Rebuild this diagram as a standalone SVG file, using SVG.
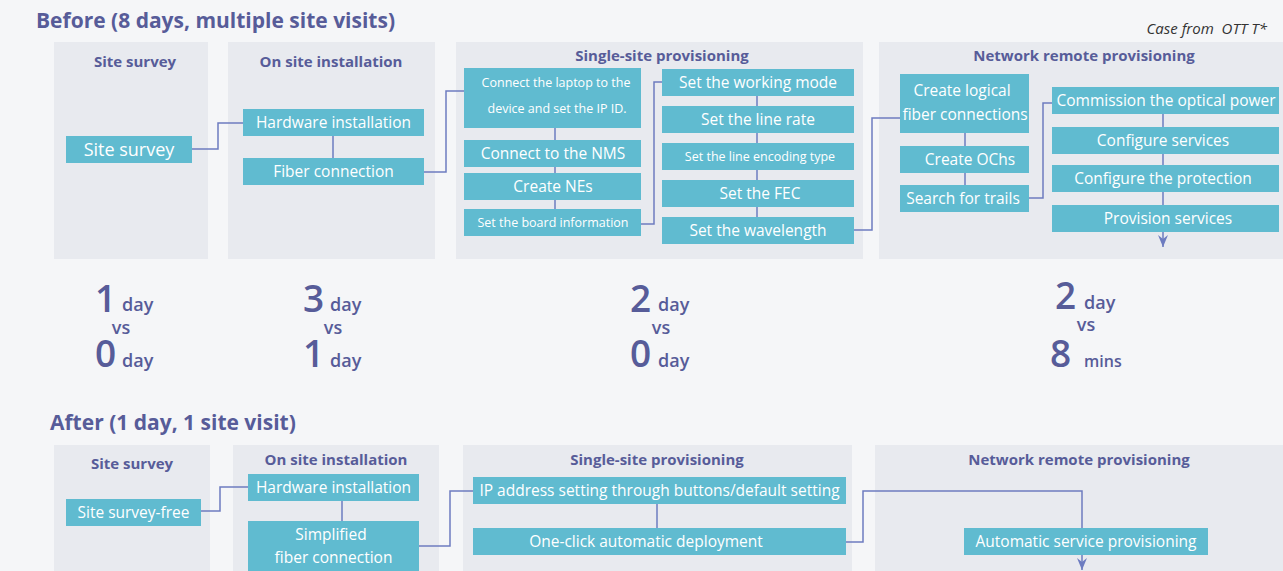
<svg xmlns="http://www.w3.org/2000/svg" width="1283" height="571" viewBox="0 0 1283 571">
<defs>
<style>
.bg{fill:#f5f6f8}
.panel{fill:#e8eaef}
.node{fill:#60bbd0}
.h1{font-family:"Open Sans","Noto Sans",sans-serif;font-weight:bold;font-size:21px;fill:#575c99}
.pt{font-family:"Open Sans","Noto Sans",sans-serif;font-weight:bold;font-size:15px;fill:#575c99;text-anchor:middle}
.t{font-family:"Open Sans","Noto Sans",sans-serif;font-size:15.5px;fill:#ffffff;text-anchor:middle}
.ts{font-family:"Open Sans","Noto Sans",sans-serif;font-size:12.5px;fill:#ffffff;text-anchor:middle}
.big{font-family:"Open Sans","Noto Sans",sans-serif;font-size:37px;font-weight:600;fill:#575c99}
.unit{font-family:"Open Sans","Noto Sans",sans-serif;font-size:18px;font-weight:600;fill:#575c99}
.vs{font-family:"Open Sans","Noto Sans",sans-serif;font-size:18px;font-weight:600;fill:#575c99;text-anchor:middle}
.case{font-family:"Open Sans","Noto Sans",sans-serif;font-size:15px;font-style:italic;fill:#333333;text-anchor:end}
.c{fill:none;stroke:#6d7cc0;stroke-width:1.5}
</style>
<marker id="arrd" viewBox="0 0 12 10" refX="12" refY="5" markerWidth="12" markerHeight="10" markerUnits="userSpaceOnUse" orient="auto">
<path d="M0,0 L4,5 L0,10 L12,5 Z" fill="#6d7cc0"/>
</marker>
</defs>
<rect class="bg" x="0" y="0" width="1283" height="571"/>

<text class="h1" x="36" y="28">Before (8 days, multiple site visits)</text>
<text class="case" x="1267" y="34" xml:space="preserve">Case from  OTT T*</text>

<g id="panels-before">
<rect class="panel" x="54" y="42" width="154" height="217"/>
<text class="pt" x="135" y="67">Site survey</text>
<rect class="panel" x="228" y="42" width="207" height="217"/>
<text class="pt" x="331" y="67">On site installation</text>
<rect class="panel" x="456" y="42" width="407" height="217"/>
<text class="pt" x="662" y="61">Single-site provisioning</text>
<rect class="panel" x="879" y="42" width="404" height="217"/>
<text class="pt" x="1084" y="61">Network remote provisioning</text>
</g>

<g id="panels-after">
<rect class="panel" x="54" y="445" width="156" height="126"/>
<text class="pt" x="132" y="469">Site survey</text>
<rect class="panel" x="233" y="445" width="206" height="126"/>
<text class="pt" x="336" y="465">On site installation</text>
<rect class="panel" x="463" y="445" width="389" height="126"/>
<text class="pt" x="657" y="465">Single-site provisioning</text>
<rect class="panel" x="875" y="445" width="408" height="126"/>
<text class="pt" x="1079" y="465">Network remote provisioning</text>
</g>

<g id="connectors">
<path class="c" d="M192,149 H218 V123 H243"/>
<path class="c" d="M333,136 V158"/>
<path class="c" d="M424,172 H446 V91 H464"/>
<path class="c" d="M555,128 V209"/>
<path class="c" d="M641,224 H654 V82 H662"/>
<path class="c" d="M757,96 V217"/>
<path class="c" d="M854,230 H872 V118 H900"/>
<path class="c" d="M965,133 V185"/>
<path class="c" d="M1029,198 H1043 V103 H1052"/>
<path class="c" d="M1163,114 V247" marker-end="url(#arrd)"/>
<path class="c" d="M201,511 H220 V487 H248"/>
<path class="c" d="M342,501 V521"/>
<path class="c" d="M419,546 H450 V491 H473"/>
<path class="c" d="M657,504 V528"/>
<path class="c" d="M846,542 H863 V491 H1082 V528"/>
<path class="c" d="M1082,555 V570" marker-end="url(#arrd)"/>
</g>

<g id="n-site-survey"><rect class="node" x="66" y="136" width="126" height="27"/><text class="t" x="129" y="155.5" style="font-size:18px">Site survey</text></g>
<g id="n-hw"><rect class="node" x="243" y="109" width="181" height="27"/><text class="t" x="333.5" y="128">Hardware installation</text></g>
<g id="n-fiber"><rect class="node" x="243" y="158" width="181" height="27"/><text class="t" x="333.5" y="177">Fiber connection</text></g>

<g id="n-laptop"><rect class="node" x="464" y="68" width="177" height="60"/><text class="ts" x="556" y="86.5">Connect the laptop to the</text><text class="ts" x="557" y="112.5">device and set the IP ID.</text></g>
<g id="n-nms"><rect class="node" x="464" y="140" width="177" height="27"/><text class="t" x="553" y="159">Connect to the NMS</text></g>
<g id="n-nes"><rect class="node" x="464" y="173" width="177" height="27"/><text class="t" x="553" y="192">Create NEs</text></g>
<g id="n-board"><rect class="node" x="464" y="209" width="177" height="27"/><text class="ts" x="553" y="227">Set the board information</text></g>

<g id="n-mode"><rect class="node" x="662" y="69" width="192" height="27"/><text class="t" x="758" y="88">Set the working mode</text></g>
<g id="n-rate"><rect class="node" x="662" y="106" width="192" height="27"/><text class="t" x="758" y="125">Set the line rate</text></g>
<g id="n-enc"><rect class="node" x="662" y="143" width="192" height="27"/><text class="ts" x="760" y="161">Set the line encoding type</text></g>
<g id="n-fec"><rect class="node" x="662" y="180" width="192" height="27"/><text class="t" x="760" y="199">Set the FEC</text></g>
<g id="n-wave"><rect class="node" x="662" y="217" width="192" height="27"/><text class="t" x="758" y="236">Set the wavelength</text></g>

<g id="n-logical"><rect class="node" x="900" y="74" width="129" height="59"/><text class="t" x="962" y="95.5">Create logical</text><text class="t" x="965" y="119.5">fiber connections</text></g>
<g id="n-ochs"><rect class="node" x="900" y="146" width="129" height="27"/><text class="t" x="970" y="165">Create OChs</text></g>
<g id="n-trails"><rect class="node" x="900" y="185" width="129" height="27"/><text class="t" x="963" y="204">Search for trails</text></g>

<g id="n-power"><rect class="node" x="1052" y="87" width="227" height="27"/><text class="t" x="1166" y="106">Commission the optical power</text></g>
<g id="n-services"><rect class="node" x="1052" y="127" width="227" height="27"/><text class="t" x="1163" y="146">Configure services</text></g>
<g id="n-protect"><rect class="node" x="1052" y="165" width="227" height="27"/><text class="t" x="1163" y="184">Configure the protection</text></g>
<g id="n-provision"><rect class="node" x="1052" y="205" width="227" height="27"/><text class="t" x="1168" y="224">Provision services</text></g>

<g id="stats">
<text class="big" x="95" y="312">1</text><text class="unit" x="122" y="311">day</text>
<text class="vs" x="121" y="334">vs</text>
<text class="big" x="95" y="367">0</text><text class="unit" x="122" y="367">day</text>

<text class="big" x="303" y="312">3</text><text class="unit" x="330" y="311">day</text>
<text class="vs" x="333" y="334">vs</text>
<text class="big" x="303" y="367">1</text><text class="unit" x="330" y="367">day</text>

<text class="big" x="630" y="312">2</text><text class="unit" x="658" y="311">day</text>
<text class="vs" x="661" y="334">vs</text>
<text class="big" x="630" y="367">0</text><text class="unit" x="658" y="367">day</text>

<text class="big" x="1055" y="309">2</text><text class="unit" x="1084" y="309">day</text>
<text class="vs" x="1086" y="331">vs</text>
<text class="big" x="1050" y="367">8</text><text class="unit" x="1084" y="367" style="font-size:16px">mins</text>
</g>

<text class="h1" x="50" y="430">After (1 day, 1 site visit)</text>

<g id="a-survey"><rect class="node" x="66" y="499" width="135" height="27"/><text class="t" x="133.5" y="518">Site survey-free</text></g>
<g id="a-hw"><rect class="node" x="248" y="474" width="171" height="27"/><text class="t" x="333.5" y="493">Hardware installation</text></g>
<g id="a-fiber"><rect class="node" x="248" y="521" width="171" height="50"/><text class="t" x="331" y="540">Simplified</text><text class="t" x="333.5" y="563">fiber connection</text></g>
<g id="a-ip"><rect class="node" x="473" y="477" width="373" height="27"/><text class="t" x="659.5" y="496">IP address setting through buttons/default setting</text></g>
<g id="a-oneclick"><rect class="node" x="473" y="528" width="373" height="27"/><text class="t" x="646" y="547">One-click automatic deployment</text></g>
<g id="a-auto"><rect class="node" x="964" y="528" width="244" height="27"/><text class="t" x="1086" y="547">Automatic service provisioning</text></g>
</svg>
